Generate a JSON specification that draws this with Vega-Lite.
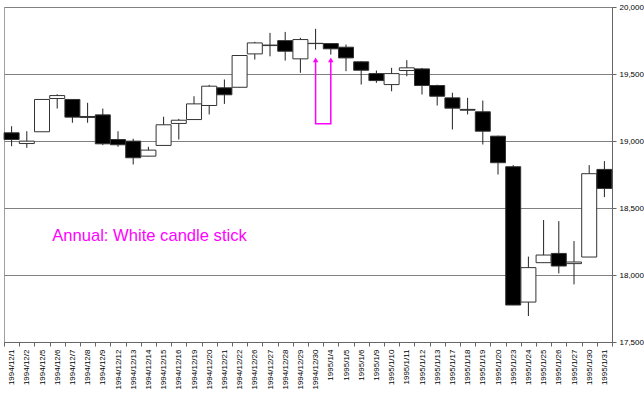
{
  "$schema": "https://vega.github.io/schema/vega-lite/v6.json",
  "width": 608,
  "height": 335,
  "autosize": {"type": "none"},
  "padding": {"left": 4, "top": 7, "right": 32, "bottom": 51},
  "background": "white",
  "config": {
    "view": {"stroke": "#a0a0a0", "strokeWidth": 1},
    "font": "Liberation Sans"
  },
  "datasets": {
    "ohlc": [
      {"date": "1994/12/1", "open": 19061, "high": 19110, "low": 18961, "close": 19011},
      {"date": "1994/12/2", "open": 18981, "high": 19073, "low": 18949, "close": 18999},
      {"date": "1994/12/5", "open": 19069, "high": 19310, "low": 19069, "close": 19310},
      {"date": "1994/12/6", "open": 19317, "high": 19349, "low": 19242, "close": 19339},
      {"date": "1994/12/7", "open": 19310, "high": 19310, "low": 19136, "close": 19178},
      {"date": "1994/12/8", "open": 19183, "high": 19285, "low": 19136, "close": 19176},
      {"date": "1994/12/9", "open": 19195, "high": 19242, "low": 18969, "close": 18979},
      {"date": "1994/12/12", "open": 19011, "high": 19073, "low": 18957, "close": 18972},
      {"date": "1994/12/13", "open": 18999, "high": 19017, "low": 18825, "close": 18875},
      {"date": "1994/12/14", "open": 18887, "high": 18957, "low": 18885, "close": 18932},
      {"date": "1994/12/15", "open": 18967, "high": 19181, "low": 18965, "close": 19121},
      {"date": "1994/12/16", "open": 19131, "high": 19165, "low": 19011, "close": 19155},
      {"date": "1994/12/19", "open": 19160, "high": 19334, "low": 19158, "close": 19277},
      {"date": "1994/12/20", "open": 19265, "high": 19419, "low": 19198, "close": 19409},
      {"date": "1994/12/21", "open": 19397, "high": 19459, "low": 19277, "close": 19345},
      {"date": "1994/12/22", "open": 19401, "high": 19640, "low": 19400, "close": 19638},
      {"date": "1994/12/26", "open": 19650, "high": 19740, "low": 19608, "close": 19732},
      {"date": "1994/12/27", "open": 19712, "high": 19807, "low": 19632, "close": 19716},
      {"date": "1994/12/28", "open": 19749, "high": 19814, "low": 19600, "close": 19670},
      {"date": "1994/12/29", "open": 19613, "high": 19770, "low": 19509, "close": 19757},
      {"date": "1994/12/30", "open": 19727, "high": 19837, "low": 19682, "close": 19729},
      {"date": "1995/1/4", "open": 19727, "high": 19730, "low": 19645, "close": 19688},
      {"date": "1995/1/5", "open": 19700, "high": 19720, "low": 19521, "close": 19620},
      {"date": "1995/1/6", "open": 19591, "high": 19595, "low": 19421, "close": 19528},
      {"date": "1995/1/9", "open": 19503, "high": 19526, "low": 19434, "close": 19451},
      {"date": "1995/1/10", "open": 19421, "high": 19546, "low": 19371, "close": 19503},
      {"date": "1995/1/11", "open": 19526, "high": 19603, "low": 19483, "close": 19546},
      {"date": "1995/1/12", "open": 19538, "high": 19545, "low": 19347, "close": 19414},
      {"date": "1995/1/13", "open": 19414, "high": 19420, "low": 19265, "close": 19334},
      {"date": "1995/1/17", "open": 19322, "high": 19360, "low": 19086, "close": 19245},
      {"date": "1995/1/18", "open": 19236, "high": 19322, "low": 19198, "close": 19230},
      {"date": "1995/1/19", "open": 19218, "high": 19302, "low": 18974, "close": 19073},
      {"date": "1995/1/20", "open": 19036, "high": 19040, "low": 18750, "close": 18838},
      {"date": "1995/1/23", "open": 18808, "high": 18820, "low": 17775, "close": 17776},
      {"date": "1995/1/24", "open": 17798, "high": 18137, "low": 17694, "close": 18055},
      {"date": "1995/1/25", "open": 18092, "high": 18410, "low": 18090, "close": 18149},
      {"date": "1995/1/26", "open": 18161, "high": 18402, "low": 18012, "close": 18067},
      {"date": "1995/1/27", "open": 18085, "high": 18253, "low": 17930, "close": 18097},
      {"date": "1995/1/30", "open": 18134, "high": 18820, "low": 18134, "close": 18756},
      {"date": "1995/1/31", "open": 18788, "high": 18850, "low": 18581, "close": 18646}
    ],
    "arrow": [
      {"date": "1994/12/30", "value": 19598, "order": 1},
      {"date": "1994/12/30", "value": 19128, "order": 2},
      {"date": "1995/1/4", "value": 19128, "order": 3},
      {"date": "1995/1/4", "value": 19598, "order": 4}
    ],
    "heads": [
      {"date": "1994/12/30", "value": 19605},
      {"date": "1995/1/4", "value": 19605}
    ],
    "note": [
      {"date": "1994/12/6", "value": 18290, "label": "Annual: White candle stick"}
    ]
  },
  "encoding": {
    "x": {
      "field": "date",
      "type": "ordinal",
      "sort": null,
      "scale": {"type": "band", "paddingInner": 0, "paddingOuter": 0},
      "axis": {
        "title": null,
        "labelAngle": 270,
        "labelFontSize": 8,
        "labelColor": "#000",
        "labelPadding": 3,
        "tickBand": "extent",
        "tickSize": 4,
        "tickColor": "#666",
        "domainColor": "#666",
        "grid": false
      }
    }
  },
  "layer": [
    {
      "data": {"name": "ohlc"},
      "mark": {"type": "rule", "color": "#222", "strokeWidth": 1},
      "encoding": {
        "y": {
          "field": "low",
          "type": "quantitative",
          "scale": {"domain": [17500, 20000], "nice": false, "zero": false},
          "axis": {
            "orient": "right",
            "title": null,
            "values": [17500, 18000, 18500, 19000, 19500, 20000],
            "grid": true,
            "gridColor": "#808080",
            "gridOpacity": 1,
            "labelFontSize": 8,
            "labelColor": "#000",
            "labelPadding": 3,
            "tickSize": 4,
            "tickColor": "#666",
            "domainColor": "#666"
          }
        },
        "y2": {"field": "high"}
      }
    },
    {
      "data": {"name": "ohlc"},
      "mark": {"type": "bar", "size": 15, "stroke": "#333", "strokeWidth": 1},
      "encoding": {
        "y": {"field": "open", "type": "quantitative"},
        "y2": {"field": "close"},
        "fill": {
          "condition": {"test": "datum.close < datum.open", "value": "#000000"},
          "value": "#ffffff"
        }
      }
    },
    {
      "data": {"name": "arrow"},
      "mark": {"type": "line", "color": "#ff00ff", "strokeWidth": 1.5, "interpolate": "linear"},
      "encoding": {
        "y": {"field": "value", "type": "quantitative"},
        "order": {"field": "order", "type": "quantitative"}
      }
    },
    {
      "data": {"name": "heads"},
      "mark": {"type": "point", "shape": "triangle-up", "filled": true, "color": "#ff00ff", "size": 30, "opacity": 1},
      "encoding": {
        "y": {"field": "value", "type": "quantitative"}
      }
    },
    {
      "data": {"name": "note"},
      "mark": {"type": "text", "align": "left", "baseline": "middle", "dx": -5, "fontSize": 16.6, "color": "#ff00ff", "font": "Liberation Sans"},
      "encoding": {
        "y": {"field": "value", "type": "quantitative"},
        "text": {"field": "label"}
      }
    }
  ]
}
